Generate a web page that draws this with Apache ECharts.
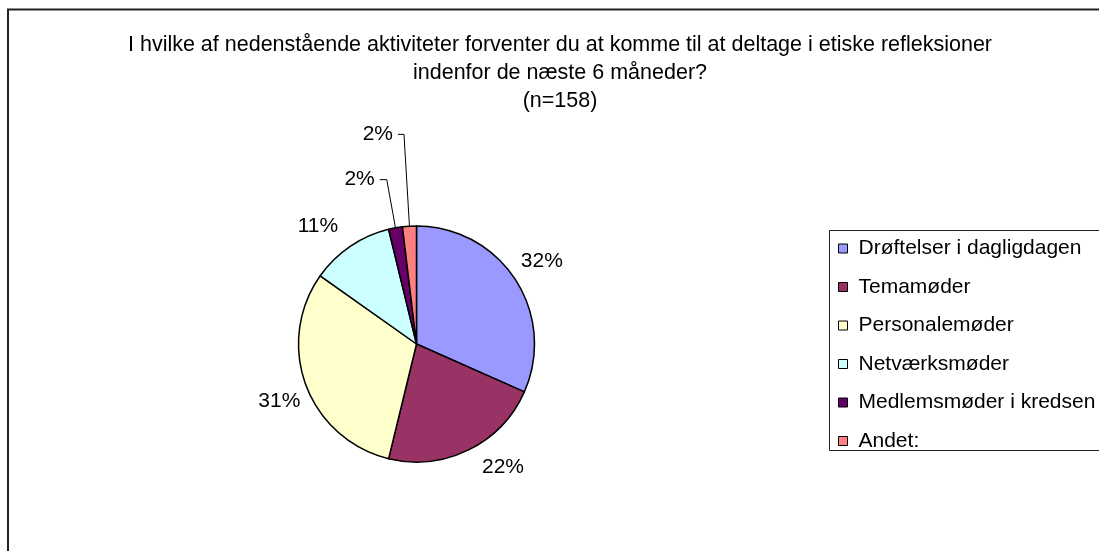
<!DOCTYPE html>
<html><head><meta charset="utf-8">
<script src="https://cdn.jsdelivr.net/npm/echarts@6/dist/echarts.min.js"></script>
<style>html,body{margin:0;padding:0;background:#fff}#c{width:1099px;height:551px}</style>
</head><body><div id="c"></div>
<script>
const titleLines = [
  'I hvilke af nedenstående aktiviteter forventer du at komme til at deltage i etiske refleksioner',
  'indenfor de næste 6 måneder?',
  '(n=158)'
];
const categories = ['Drøftelser i dagligdagen', 'Temamøder', 'Personalemøder', 'Netværksmøder', 'Medlemsmøder i kredsen', 'Andet:'];
const counts = [50, 35, 49, 18, 3, 3];
const colors = ['#9999FF', '#993366', '#FFFFCC', '#CCFFFF', '#660066', '#FF8080'];
// label leader settings per slice (style only)
const leaderShow = [false, false, false, false, true, true];
const leaderLen = [10, 19, 6, 16, 49, 92];
const leaderLen2 = [0, 0, 0, 0, 7, 6];
// small label nudges (text placement only)
const labelNudge = [[-8, -13], [0, 0], [5, 14], [2, -7], [0, 0], [0, 0]];

const FONT = 'Liberation Sans, Arial, sans-serif';
const chart = echarts.init(document.getElementById('c'), null, {renderer: 'canvas'});
chart.setOption({
  backgroundColor: '#fff',
  color: colors,
  animation: false,
  title: {
    text: titleLines.join('\n'),
    left: 560,
    top: 31,
    textAlign: 'center',
    padding: 0,
    textStyle: {fontFamily: FONT, fontSize: 21.5, fontWeight: 'normal', color: '#000', lineHeight: 28}
  },
  legend: {
    orient: 'vertical',
    left: 838,
    top: 238,
    padding: 0,
    itemWidth: 9,
    itemHeight: 9,
    itemGap: 17.5,
    icon: 'rect',
    itemStyle: {borderColor: '#000', borderWidth: 1},
    textStyle: {fontFamily: FONT, fontSize: 21, color: '#000', padding: [0, 0, 0, 6]},
    data: categories
  },
  graphic: [{
    type: 'rect',
    shape: {x: 8, y: 9.5, width: 1200, height: 700},
    style: {fill: 'none', stroke: '#222', lineWidth: 2},
    silent: true
  }, {
    type: 'rect',
    shape: {x: 829.5, y: 230.5, width: 400, height: 220},
    style: {fill: 'none', stroke: '#222', lineWidth: 1},
    silent: true
  }],
  series: [{
    type: 'pie',
    center: [416.5, 344],
    radius: 118,
    startAngle: 90,
    clockwise: true,
    percentPrecision: 0,
    avoidLabelOverlap: false,
    itemStyle: {borderColor: '#000', borderWidth: 1.5},
    label: {
      show: true,
      position: 'outside',
      formatter: '{d}%',
      fontFamily: FONT,
      fontSize: 21,
      color: '#000'
    },
    labelLine: {lineStyle: {color: '#000', width: 1}},
    labelLayout: function (p) {
      const n = labelNudge[p.dataIndex] || [0, 0];
      return {dx: n[0], dy: n[1]};
    },
    emphasis: {disabled: true},
    data: categories.map((name, i) => ({
      name: name,
      value: counts[i],
      labelLine: {show: leaderShow[i], length: leaderLen[i], length2: leaderLen2[i]}
    }))
  }]
});
</script>
</body></html>
